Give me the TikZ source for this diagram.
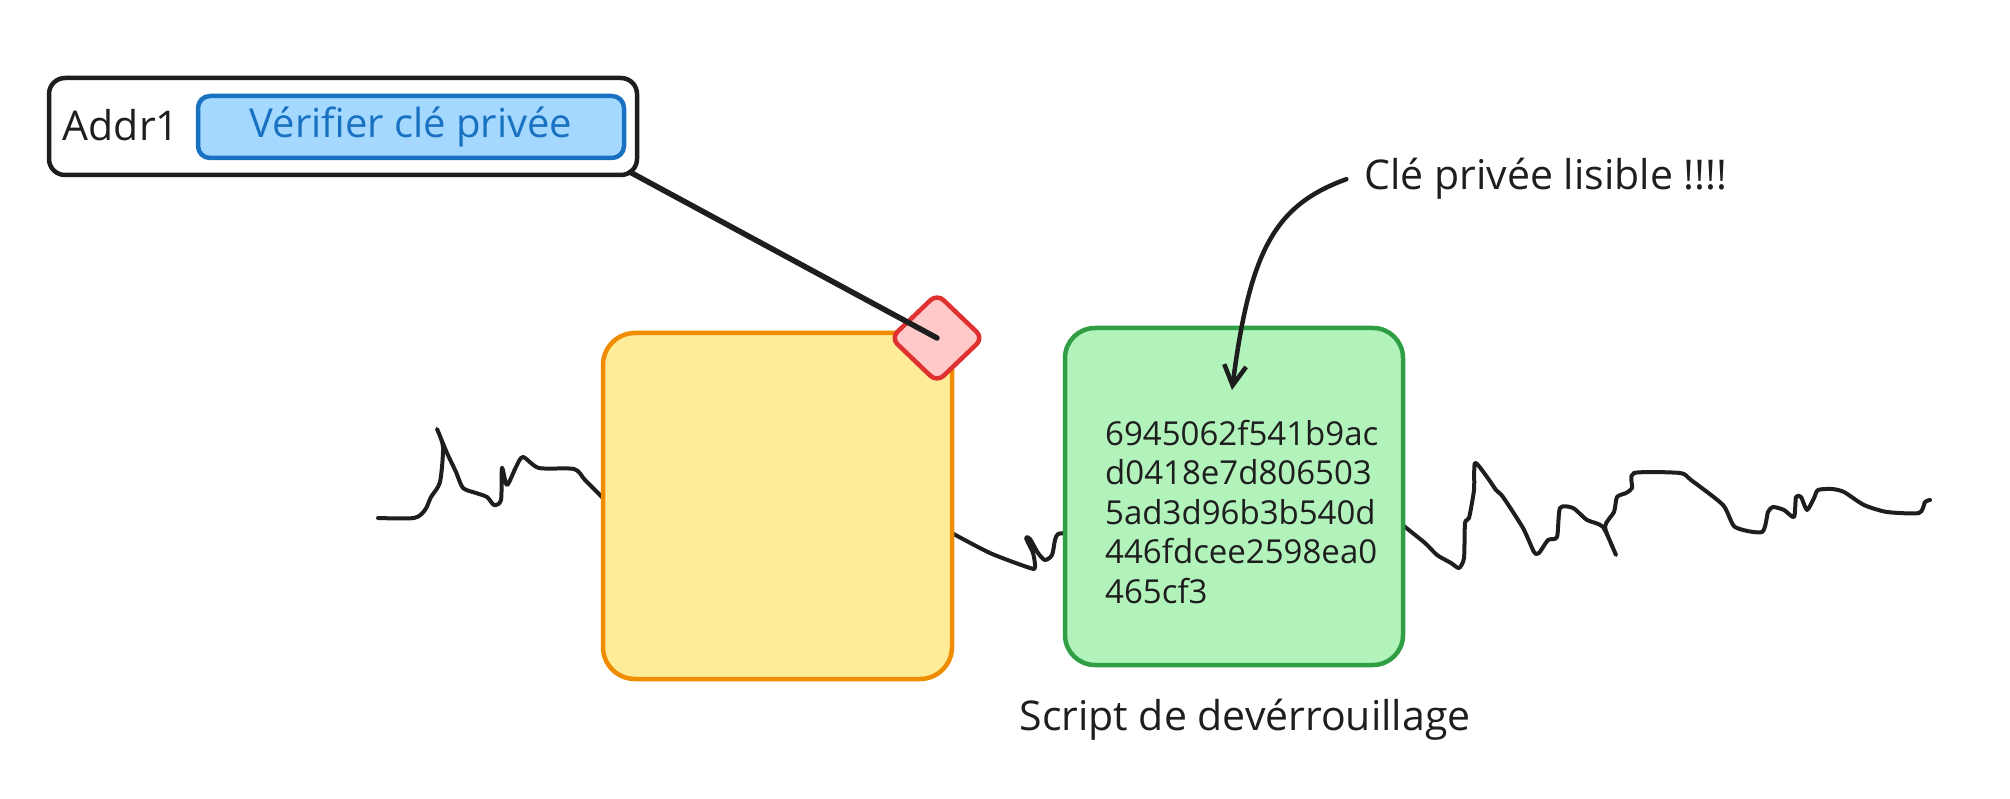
\documentclass[tikz,border=0pt]{standalone}
\usepackage{fontspec}
\setmainfont{Open Sans}
\usetikzlibrary{arrows.meta,shapes.geometric}
\definecolor{ink}{HTML}{1E1E1E}
\definecolor{lockfill}{HTML}{FFEC99}
\definecolor{lockline}{HTML}{F08C00}
\definecolor{keyfill}{HTML}{B2F2BB}
\definecolor{keyline}{HTML}{2F9E44}
\definecolor{tagfill}{HTML}{FFC9C9}
\definecolor{tagline}{HTML}{E03131}
\definecolor{btnfill}{HTML}{A5D8FF}
\definecolor{btnline}{HTML}{1971C2}

\tikzset{
  txt/.style={inner sep=0pt, text=ink, font=\fontsize{41}{48}\selectfont},
  hexdump/.style={inner sep=0pt, text=ink, align=left, font=\fontsize{33}{39.5}\selectfont},
  panel/.style={draw=ink, line width=4.5pt, fill=white, rounded corners=16pt, minimum width=588pt, minimum height=97pt, inner sep=0pt},
  button/.style={draw=btnline, line width=4.5pt, fill=btnfill, rounded corners=12pt, minimum width=426pt, minimum height=62pt, inner sep=0pt, text=btnline, font=\fontsize{40}{48}\selectfont},
  lockbox/.style={draw=lockline, line width=4.5pt, fill=lockfill, rounded corners=32pt, minimum width=349pt, minimum height=346pt},
  scriptbox/.style={draw=keyline, line width=4.5pt, fill=keyfill, rounded corners=30pt, minimum width=338pt, minimum height=337pt},
  tag/.style={diamond, draw=tagline, line width=4.5pt, fill=tagfill, rounded corners=9pt, minimum width=94pt, minimum height=90pt, inner sep=0pt},
  squiggle/.style={draw=ink, line width=4pt},
  tether/.style={draw=ink, line width=5.5pt},
  pointer/.style={draw=ink, line width=4.5pt, -{Straight Barb[length=20pt,width=22pt]}}
}

\begin{document}
\begin{tikzpicture}[x=1pt,y=-1pt,line cap=round,line join=round]
\useasboundingbox (0,0) rectangle (2010,799);
\fill[white] (0,0) rectangle (2010,799);

% freehand lines behind the boxes
\draw[squiggle] plot[smooth,tension=0.45] coordinates {(378,518) (414,518) (425,510) (431,497) (440,482) (443,447) (437,429) (447,453) (456,472) (463,488) (476,493) (487,497) (494,505) (501,500) (502,468) (507,485) (516,467) (523,457) (539,468) (574,469) (585,480) (605,500)};
\draw[squiggle] plot[smooth,tension=0.45] coordinates {(950,532) (990,553) (1030,568) (1035,567) (1033,553) (1026,538) (1030,539) (1038,553) (1045,560) (1052,555) (1055,540) (1058,534) (1068,533)};
\draw[squiggle] plot[smooth,tension=0.4] coordinates {(1400,523) (1425,543) (1437,555) (1451,563) (1459,568) (1464,558) (1465,523) (1469,518) (1474,490) (1475,463) (1487,477) (1496,490) (1503,497) (1523,528) (1534,552) (1539,553) (1548,540) (1557,537) (1560,508) (1573,508) (1587,520) (1603,527) (1616,555) (1605,527) (1614,512) (1617,497) (1626,493) (1632,488) (1634,473) (1680,473) (1691,480) (1723,505) (1735,527) (1762,532) (1768,512) (1773,507) (1784,510) (1794,517) (1796,497) (1801,497) (1807,510) (1814,498) (1818,490) (1832,489) (1844,492) (1864,505) (1887,512) (1919,513) (1925,502) (1930,500)};

\node[lockbox] (lock) at (777.5,506) {};
\node[tag] (ticket) at (937,338) {};
\node[scriptbox] (script) at (1234,496.5) {};
\node[hexdump, anchor=base west] (key) at (1105,603) {6945062f541b9ac\\d0418e7d806503\\5ad3d96b3b540d\\446fdcee2598ea0\\465cf3};
\node[txt, anchor=base] (caption) at (1245,730) {Script de devérrouillage};

% address row
\node[panel] (addr) at (343,126.5) {};
\node[txt, anchor=base] (addrname) at (121,141) {Addr1};
\node[button] (verify) at (411,127) {Vérifier clé privée};
\draw[tether] ([shift={(-9,-5)}]addr.south east) -- (ticket.center);

% annotation
\node[txt, anchor=base] (note) at (1546,190) {Clé privée lisible !!!!};
\coordinate (keytip) at (1232,390);
\draw[pointer] ([xshift=-18pt]note.west) .. controls (1275,205) and (1250,250) .. (keytip);
\end{tikzpicture}
\end{document}
